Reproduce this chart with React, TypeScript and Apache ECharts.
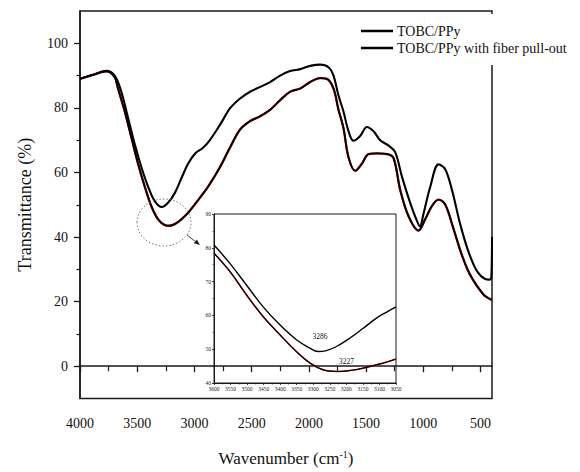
import React, { useEffect, useRef } from "react";
import * as echarts from "echarts";

// Main spectrum: TOBC/PPy
const topWave = [4000, 3880, 3770, 3697, 3639, 3580, 3522, 3464, 3405, 3347, 3286, 3231, 3172, 3114, 3056, 2990, 2930, 2870, 2776, 2688, 2601, 2514, 2426, 2339, 2251, 2164, 2076, 1989, 1902, 1829, 1785, 1742, 1698, 1654, 1610, 1552, 1493, 1436, 1377, 1304, 1246, 1187, 1115, 1056, 1030, 1000, 940, 867, 809, 750, 678, 605, 532, 459, 420, 405, 400];
const topT = [89.0, 90.3, 91.5, 90.0, 85.0, 76.9, 68.8, 61.7, 55.6, 51.1, 49.3, 50.6, 53.6, 58.2, 62.7, 66.0, 67.5, 69.8, 74.8, 79.9, 82.9, 85.0, 86.5, 88.0, 90.0, 91.4, 92.0, 93.0, 93.4, 92.6, 90.0, 83.9, 78.9, 72.8, 69.8, 71.3, 74.1, 72.8, 70.0, 68.3, 66.3, 58.7, 50.6, 45.0, 43.3, 47.0, 55.5, 62.5, 61.0, 54.6, 44.0, 35.4, 29.5, 27.0, 26.8, 28.0, 40.0];

// Main spectrum: TOBC/PPy with fiber pull-out
const botWave = [4000, 3880, 3770, 3697, 3668, 3609, 3551, 3493, 3434, 3377, 3318, 3259, 3216, 3172, 3114, 3056, 2997, 2939, 2881, 2776, 2688, 2601, 2514, 2426, 2339, 2251, 2164, 2076, 1989, 1902, 1843, 1785, 1742, 1698, 1654, 1595, 1537, 1479, 1406, 1319, 1261, 1202, 1130, 1042, 984, 925, 867, 809, 736, 663, 591, 474, 400];
const botT = [89.0, 90.3, 91.3, 89.5, 86.0, 78.9, 70.8, 62.7, 55.6, 49.6, 45.5, 43.7, 43.5, 44.0, 45.5, 47.5, 50.1, 52.8, 55.6, 61.7, 67.8, 73.3, 75.9, 77.4, 79.4, 82.4, 85.0, 86.0, 88.0, 89.2, 89.0, 86.0, 79.5, 73.8, 64.7, 60.5, 62.7, 65.7, 65.9, 65.7, 64.5, 54.6, 46.5, 42.0, 45.5, 49.6, 51.6, 50.1, 42.5, 34.4, 28.3, 22.2, 20.5];

// Inset (zoom of O-H band)
const insetTopWave = [3600, 3552, 3502, 3452, 3401, 3351, 3310, 3286, 3260, 3230, 3189, 3149, 3109, 3078, 3050];
const insetTopT = [80.8, 75.4, 69.0, 62.6, 57.2, 52.8, 50.3, 49.3, 49.6, 50.8, 53.3, 56.2, 59.2, 61.0, 62.5];
const insetBotWave = [3600, 3552, 3502, 3452, 3401, 3351, 3310, 3270, 3227, 3189, 3149, 3109, 3078, 3050];
const insetBotT = [78.4, 73.0, 66.1, 59.7, 54.3, 49.3, 45.9, 43.9, 43.4, 43.7, 44.4, 45.4, 46.2, 47.1];

const peakTop = { wave: 3286, t: 49.3, label: "3286" };
const peakBot = { wave: 3227, t: 43.4, label: "3227" };

const xMajor = [4000, 3500, 3000, 2500, 2000, 1500, 1000, 500];
const xMinor = [3750, 3250, 2750, 2250, 1750, 1250, 750];
const yMajor = [0, 20, 40, 60, 80, 100];
const yMinor = [10, 30, 50, 70, 90];

const seriesNames = ["TOBC/PPy", "TOBC/PPy with fiber pull-out"];

const FONT = "Liberation Serif";

const pairs = (xs: number[], ys: number[]) => xs.map((x, i) => [x, ys[i]]);
const plain = (v: number) => String(v);

export default function App() {
  const ref = useRef<HTMLDivElement>(null);
  useEffect(() => {
    if (!ref.current) return;
    const chart = echarts.init(ref.current, null, { renderer: "svg" });
    const axisColor = "#1a1a1a";
    const option: any = {
      animation: false,
      backgroundColor: "#fff",
      textStyle: { fontFamily: FONT, color: "#111" },
      grid: [
        { left: 80, top: 11, width: 412, height: 395, show: true, borderColor: axisColor, borderWidth: 1.5, backgroundColor: "transparent" },
        { left: 214, top: 214, width: 182, height: 169, show: true, borderColor: axisColor, borderWidth: 1, backgroundColor: "#fff" },
      ],
      legend: {
        data: seriesNames,
        orient: "vertical",
        left: 361,
        top: 24,
        padding: 0,
        itemWidth: 32,
        itemHeight: 2.5,
        itemGap: 3,
        icon: "rect",
        z: 20,
        textStyle: { fontFamily: FONT, fontSize: 14, color: "#111", padding: [0, 0, 0, -1] },
      },
      xAxis: [
        {
          gridIndex: 0, type: "value", position: "bottom", inverse: true, min: 400, max: 4000,
          axisLine: { show: true, lineStyle: { color: axisColor, width: 1.5 } },
          axisTick: { show: true, customValues: xMajor, length: 6, lineStyle: { color: axisColor, width: 1.3 } },
          axisLabel: { customValues: xMajor, formatter: plain, fontFamily: FONT, fontSize: 14, color: "#111", margin: 18 },
          splitLine: { show: false },
          name: "{a|Wavenumber (cm}{s|-1}{a|)}",
          nameLocation: "middle",
          nameGap: 51,
          nameTextStyle: {
            rich: {
              a: { fontFamily: FONT, fontSize: 17, color: "#111" },
              s: { fontFamily: FONT, fontSize: 10, color: "#111", verticalAlign: "top", padding: [0, 0, 8, 0] },
            },
          },
        },
        {
          gridIndex: 0, type: "value", position: "bottom", inverse: true, min: 400, max: 4000,
          axisLine: { show: false },
          axisTick: { show: true, customValues: xMinor, length: 5, lineStyle: { color: axisColor, width: 1.2 } },
          axisLabel: { show: false },
          splitLine: { show: false },
        },
        {
          gridIndex: 1, type: "value", position: "bottom", inverse: true, min: 3050, max: 3600, interval: 50,
          axisLine: { show: true, lineStyle: { color: axisColor, width: 1 } },
          axisTick: { show: true, length: 2, lineStyle: { color: axisColor, width: 0.8 } },
          minorTick: { show: true, splitNumber: 2, length: 1.5, lineStyle: { color: axisColor, width: 0.6 } },
          axisLabel: { formatter: plain, fontFamily: FONT, fontSize: 5.5, color: "#222", margin: 3, interval: 0, hideOverlap: false },
          splitLine: { show: false },
        },
      ],
      yAxis: [
        {
          gridIndex: 0, type: "value", position: "left", min: -10, max: 110,
          axisLine: { show: true, lineStyle: { color: axisColor, width: 1.5 } },
          axisTick: { show: true, customValues: yMajor, length: 6, lineStyle: { color: axisColor, width: 1.3 } },
          axisLabel: { customValues: yMajor, formatter: plain, fontFamily: FONT, fontSize: 14, color: "#111", margin: 12 },
          splitLine: { show: false },
          name: "Transmittance (%)",
          nameLocation: "middle",
          nameGap: 46,
          nameTextStyle: { fontFamily: FONT, fontSize: 18, color: "#111" },
        },
        {
          gridIndex: 0, type: "value", position: "left", min: -10, max: 110,
          axisLine: { show: false },
          axisTick: { show: true, customValues: yMinor, length: 3.5, lineStyle: { color: axisColor, width: 1.2 } },
          axisLabel: { show: false },
          splitLine: { show: false },
        },
        {
          gridIndex: 1, type: "value", position: "left", min: 40, max: 90, interval: 10,
          axisLine: { show: true, lineStyle: { color: axisColor, width: 1 } },
          axisTick: { show: true, length: 2, lineStyle: { color: axisColor, width: 0.8 } },
          minorTick: { show: true, splitNumber: 2, length: 1.5, lineStyle: { color: axisColor, width: 0.6 } },
          axisLabel: { formatter: plain, fontFamily: FONT, fontSize: 5.5, color: "#222", margin: 3 },
          splitLine: { show: false },
        },
      ],
      series: [
        {
          name: "redMain", type: "line", xAxisIndex: 0, yAxisIndex: 0,
          data: pairs(botWave, botT), smooth: 0.35, showSymbol: false, silent: true,
          lineStyle: { color: "#e01010", width: 2.3 }, itemStyle: { color: "#e01010" },
        },
        {
          name: seriesNames[0], type: "line", xAxisIndex: 0, yAxisIndex: 0,
          data: pairs(topWave, topT), smooth: 0.35, showSymbol: false,
          lineStyle: { color: "#000", width: 2.1 }, itemStyle: { color: "#000" },
        },
        {
          name: seriesNames[1], type: "line", xAxisIndex: 0, yAxisIndex: 0,
          data: pairs(botWave, botT), smooth: 0.35, showSymbol: false,
          lineStyle: { color: "#000", width: 1.9 }, itemStyle: { color: "#000" },
        },
        {
          name: "redInset", type: "line", xAxisIndex: 2, yAxisIndex: 2,
          data: pairs(insetBotWave, insetBotT), smooth: 0.4, showSymbol: false, silent: true,
          lineStyle: { color: "#e01010", width: 1.5 }, itemStyle: { color: "#e01010" },
        },
        {
          name: "insetTop", type: "line", xAxisIndex: 2, yAxisIndex: 2,
          data: pairs(insetTopWave, insetTopT), smooth: 0.4, showSymbol: false,
          lineStyle: { color: "#000", width: 1.4 }, itemStyle: { color: "#000" },
          markPoint: {
            symbol: "circle", symbolSize: 0, silent: true,
            label: { show: true, formatter: peakTop.label, fontFamily: FONT, fontSize: 7.5, color: "#111", position: "inside", offset: [2, -15] },
            data: [{ coord: [peakTop.wave, peakTop.t] }],
          },
        },
        {
          name: "insetBot", type: "line", xAxisIndex: 2, yAxisIndex: 2,
          data: pairs(insetBotWave, insetBotT), smooth: 0.4, showSymbol: false,
          lineStyle: { color: "#000", width: 1.2 }, itemStyle: { color: "#000" },
          markPoint: {
            symbol: "circle", symbolSize: 0, silent: true,
            label: { show: true, formatter: peakBot.label, fontFamily: FONT, fontSize: 7.5, color: "#111", position: "inside", offset: [9, -10] },
            data: [{ coord: [peakBot.wave, peakBot.t] }],
          },
        },
      ],
      graphic: [
        { type: "rect", z: 15, shape: { x: 345, y: 14, width: 235, height: 51 }, style: { fill: "#fff" } },
        {
          type: "ellipse", z: 16, shape: { cx: 164, cy: 222.5, rx: 27, ry: 23.5 },
          style: { fill: "none", stroke: "#777", lineWidth: 1, lineDash: [1.5, 2] },
        },
        { type: "line", z: 16, shape: { x1: 187, y1: 235, x2: 196, y2: 242 }, style: { stroke: "#444", lineWidth: 1 } },
        { type: "polygon", z: 16, shape: { points: [[200, 245], [193.8, 243.3], [196.9, 239.4]] }, style: { fill: "#222" } },
      ],
    };
    chart.setOption(option);
    return () => chart.dispose();
  }, []);
  return <div ref={ref} style={{ position: "fixed", left: 0, top: 0, width: 580, height: 472 }} />;
}
